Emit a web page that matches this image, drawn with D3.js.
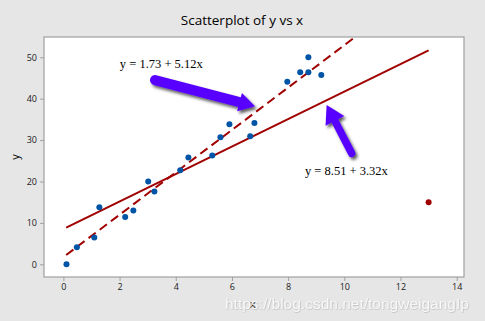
<!DOCTYPE html>
<html><head><meta charset="utf-8">
<script src="https://cdn.jsdelivr.net/npm/d3@7"></script>
<style>body{margin:0;background:#e6e6e6}svg{display:block}</style>
</head><body>
<script>
// Data
const xs = [0.11,0.48,1.1,1.28,2.2,2.49,3.02,3.24,4.16,4.45,5.3,5.59,5.91,6.65,6.8,7.97,8.43,8.72,8.72,9.18];
const ys = [0.0,4.1,6.5,13.8,11.4,13.0,20.0,17.6,22.7,25.8,26.3,30.7,33.8,30.9,34.1,44.1,46.4,50.0,46.4,45.7];
const outlierX = [13.0];
const outlierY = [15.0];
const fitIntercepts = [8.51, 1.73];
const fitSlopes = [3.32, 5.12];
const fitXStart = [0.1, 0.1];
const fitXEnd = [13.0, 10.3];
const fitDash = ["none", "9,5"];
const xTicks = [0,2,4,6,8,10,12,14];
const yTicks = [0,10,20,30,40,50];
const labels = ["y = 1.73 + 5.12x", "y = 8.51 + 3.32x"];
const labelX = [2.01, 8.6];
const labelY = [47.4, 21.6];
const arrowTailX = [3.26, 10.26], arrowTailY = [44.5, 26.8];
const arrowTipX = [6.82, 9.37], arrowTipY = [38.2, 38.5];

const W = 485, H = 321;
const svg = d3.select("body").append("svg").attr("width", W).attr("height", H);
svg.append("rect").attr("width", W).attr("height", H).attr("fill", "#e6e6e6");

const L = 44, R = 464, T = 37, B = 277;
const x = d3.scaleLinear().domain([-0.69, 14.26]).range([L, R]);
const y = d3.scaleLinear().domain([-3.07, 54.9]).range([B, T]);

const defs = svg.append("defs");
const f = defs.append("filter").attr("id","sh").attr("x","-20%").attr("y","-20%").attr("width","150%").attr("height","150%");
f.append("feDropShadow").attr("dx",2).attr("dy",2.5).attr("stdDeviation",1.6).attr("flood-color","#000").attr("flood-opacity",0.65);
const f2 = defs.append("filter").attr("id","wm");
f2.append("feDropShadow").attr("dx",0.5).attr("dy",0.5).attr("stdDeviation",0.6).attr("flood-color","#777").attr("flood-opacity",0.6);

// title
svg.append("text").attr("x", 242).attr("y", 25).attr("text-anchor","middle")
  .attr("font-family","Open Sans, sans-serif").attr("font-size", 13.5).attr("font-weight",500).attr("fill","#000")
  .text("Scatterplot of y vs x");

svg.append("rect").attr("x", L).attr("y", T).attr("width", R-L).attr("height", B-T)
  .attr("fill","#fff").attr("stroke","#a0a0a0").attr("stroke-width",1.2);

// axes
const xa = svg.append("g").attr("transform", `translate(0,${B})`)
  .call(d3.axisBottom(x).tickValues(xTicks).tickSize(4).tickPadding(3));
const ya = svg.append("g").attr("transform", `translate(${L},0)`)
  .call(d3.axisLeft(y).tickValues(yTicks).tickSize(4).tickPadding(3));
[xa, ya].forEach(a => {
  a.select(".domain").remove();
  a.selectAll("line").attr("stroke","#a0a0a0");
  a.selectAll("text").attr("font-family","Open Sans, sans-serif").attr("font-size",9).attr("fill","#1a1a1a");
});

svg.append("text").attr("transform","translate(19,157) rotate(-90)").attr("text-anchor","middle")
  .attr("font-family","Open Sans, sans-serif").attr("font-size",11).attr("fill","#111").text("y");

// fit lines
fitIntercepts.forEach((b, i) => {
  const x0 = fitXStart[i], x1 = fitXEnd[i];
  svg.append("line").attr("x1", x(x0)).attr("y1", y(b + fitSlopes[i]*x0))
    .attr("x2", x(x1)).attr("y2", y(b + fitSlopes[i]*x1))
    .attr("stroke","#a00000").attr("stroke-width",2).attr("stroke-dasharray", fitDash[i]);
});

// points
svg.append("g").selectAll("circle").data(xs).join("circle")
  .attr("cx", (d) => x(d)).attr("cy", (d, i) => y(ys[i])).attr("r", 3).attr("fill","#0054a6");
svg.append("g").selectAll("circle").data(outlierX).join("circle")
  .attr("cx", d => x(d)).attr("cy", (d,i) => y(outlierY[i])).attr("r", 3).attr("fill","#a00000");

// labels
labels.forEach((t,i) => {
  svg.append("text").attr("x", x(labelX[i])).attr("y", y(labelY[i]))
    .attr("font-family","Liberation Serif, serif").attr("font-size",12.5).attr("fill","#000").text(t);
});

// arrows
const shaftW = [10, 7.5], headLen = [16, 18], headW = [19, 21];
arrowTailX.forEach((_, i) => {
  const tx = x(arrowTailX[i]), ty = y(arrowTailY[i]);
  const px = x(arrowTipX[i]), py = y(arrowTipY[i]);
  const dx = px - tx, dy = py - ty, len = Math.hypot(dx, dy);
  const ux = dx/len, uy = dy/len, nx = -uy, ny = ux;
  const bx = px - ux*headLen[i], by = py - uy*headLen[i];
  const g = svg.append("g").attr("filter","url(#sh)");
  g.append("line").attr("x1", tx).attr("y1", ty).attr("x2", bx + ux*2).attr("y2", by + uy*2)
    .attr("stroke","#5800ff").attr("stroke-width", shaftW[i]).attr("stroke-linecap","round");
  const hw = headW[i]/2;
  g.append("path").attr("d", `M${px},${py}L${bx+nx*hw},${by+ny*hw}L${bx-nx*hw},${by-ny*hw}Z`)
    .attr("fill","#5800ff");
});

// watermark & x label
svg.append("text").attr("x", 253).attr("y", 308).attr("text-anchor","middle")
  .attr("font-family","Open Sans, sans-serif").attr("font-size",11).attr("fill","#111").text("x");
svg.append("text").attr("x", 225).attr("y", 309)
  .attr("font-family","Liberation Sans, Arial, sans-serif").attr("font-size",15.5).attr("fill","#ffffff")
  .attr("fill-opacity",0.85).attr("filter","url(#wm)").text("https://blog.csdn.net/tongweigangIp");
</script>
</body></html>
